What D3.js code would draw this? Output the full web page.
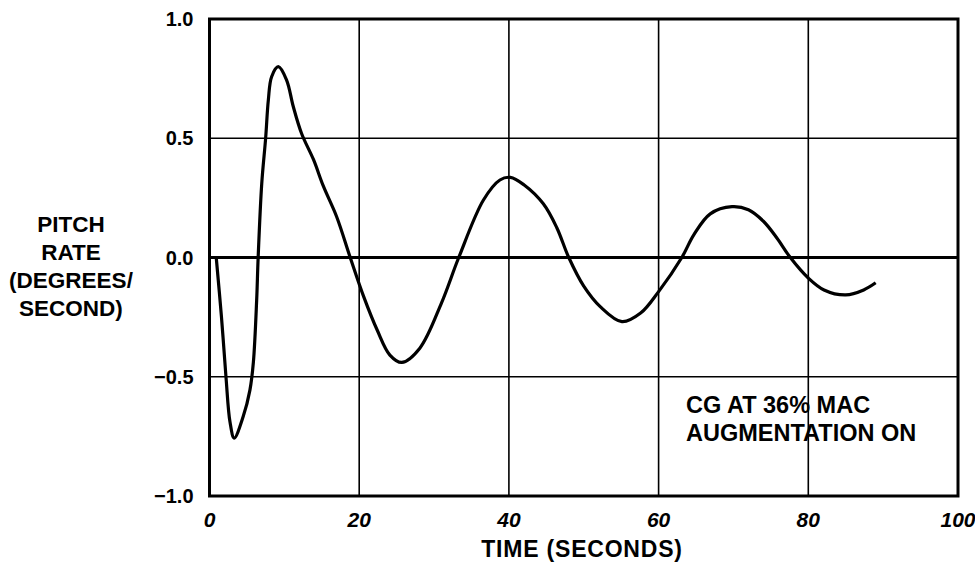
<!DOCTYPE html>
<html>
<head>
<meta charset="utf-8">
<script src="https://cdn.jsdelivr.net/npm/d3@7"></script>
<style>
    body { margin: 0; background: #fff; }
    text { font-family: "Liberation Sans", Arial, sans-serif; font-weight: bold; fill: #000; }
</style>
</head>
<body>
<script>
// time (s) and pitch rate (deg/s)
var timeSec = [0.9, 1.6, 2.2, 2.74, 3.3, 4.5, 5.4, 5.86, 6.3, 6.5, 6.98, 7.5, 7.86, 8.3, 9.2, 10.3, 11.2, 12.3,
    13.9, 15.2, 17, 18.8, 20.6, 22.4, 24.1, 25.7, 28.1, 31, 33.3, 36.6, 38.8, 40.2, 42, 44.6, 46.4, 48, 50,
    52.2, 55.1, 57.6, 60, 63.1, 64.7, 66.9, 69.8, 72, 74, 75.8, 77.6, 80, 82.1, 85, 87.4, 89];
var pitchRate = [0, -0.25, -0.5, -0.69, -0.757, -0.667, -0.556, -0.44, -0.18, 0, 0.31, 0.5, 0.66, 0.758, 0.8,
    0.744, 0.632, 0.52, 0.41, 0.3, 0.17, 0, -0.164, -0.304, -0.409, -0.44, -0.38, -0.19, 0, 0.241, 0.325,
    0.336, 0.305, 0.225, 0.125, 0, -0.12, -0.206, -0.269, -0.233, -0.143, 0, 0.095, 0.183, 0.213, 0.2, 0.152,
    0.082, 0, -0.086, -0.136, -0.157, -0.136, -0.106];

var xTicks = [0, 20, 40, 60, 80, 100];
var yTicks = [1.0, 0.5, 0.0, -0.5, -1.0];
var yTitle = ["PITCH", "RATE", "(DEGREES/", "SECOND)"];
var xTitle = "TIME (SECONDS)";
var note = ["CG AT 36% MAC", "AUGMENTATION ON"];

var width = 975, height = 570;
var margin = { top: 19, right: 17, bottom: 74, left: 209.5 };

var svg = d3.select("body").append("svg")
    .attr("width", width)
    .attr("height", height);

var x = d3.scaleLinear().domain([0, 100]).range([margin.left, width - margin.right]);
var y = d3.scaleLinear().domain([-1, 1]).range([height - margin.bottom, margin.top]);

// grid lines
svg.append("g").selectAll("line")
    .data(xTicks.slice(1, -1))
    .join("line")
    .attr("x1", function (d) { return x(d); })
    .attr("x2", function (d) { return x(d); })
    .attr("y1", y(1)).attr("y2", y(-1))
    .attr("stroke", "#000").attr("stroke-width", 1.6);

svg.append("g").selectAll("line")
    .data(yTicks.slice(1, -1))
    .join("line")
    .attr("x1", x(0)).attr("x2", x(100))
    .attr("y1", function (d) { return y(d); })
    .attr("y2", function (d) { return y(d); })
    .attr("stroke", "#000")
    .attr("stroke-width", function (d) { return d === 0 ? 2.8 : 1.6; });

// frame
svg.append("rect")
    .attr("x", x(0)).attr("y", y(1))
    .attr("width", x(100) - x(0)).attr("height", y(-1) - y(1))
    .attr("fill", "none").attr("stroke", "#000").attr("stroke-width", 3);

// tick labels
svg.append("g").selectAll("text")
    .data(yTicks)
    .join("text")
    .attr("x", x(0) - 16)
    .attr("y", function (d) { return y(d); })
    .attr("dy", "0.36em")
    .attr("text-anchor", "end")
    .style("font-size", "20px")
    .text(function (d) { return d3.format(".1f")(d).replace("-", "\u2013"); });

svg.append("g").selectAll("text")
    .data(xTicks)
    .join("text")
    .attr("x", function (d) { return x(d); })
    .attr("y", 527)
    .attr("text-anchor", "middle")
    .style("font-size", "21px")
    .style("font-style", "italic")
    .text(function (d) { return d; });

// axis titles
svg.append("text")
    .attr("x", 582)
    .attr("y", 557)
    .attr("text-anchor", "middle")
    .style("font-size", "23px")
    .style("letter-spacing", "0.8px")
    .text(xTitle);

svg.append("g").selectAll("text")
    .data(yTitle)
    .join("text")
    .attr("x", 71)
    .attr("y", function (d, i) { return 232 + i * 28; })
    .attr("text-anchor", "middle")
    .style("font-size", "22.5px")
    .text(function (d) { return d; });

// annotation
svg.append("g").selectAll("text")
    .data(note)
    .join("text")
    .attr("x", 686)
    .attr("y", function (d, i) { return 413 + i * 28; })
    .style("font-size", "23.5px")
    .text(function (d) { return d; });

// the response curve
var line = d3.line()
    .x(function (d) { return x(d[0]); })
    .y(function (d) { return y(d[1]); })
    .curve(d3.curveCatmullRom.alpha(0.5));

svg.append("path")
    .datum(d3.zip(timeSec, pitchRate))
    .attr("d", line)
    .attr("fill", "none")
    .attr("stroke", "#000")
    .attr("stroke-width", 3.2)
    .attr("stroke-linejoin", "round");
</script>
</body>
</html>
